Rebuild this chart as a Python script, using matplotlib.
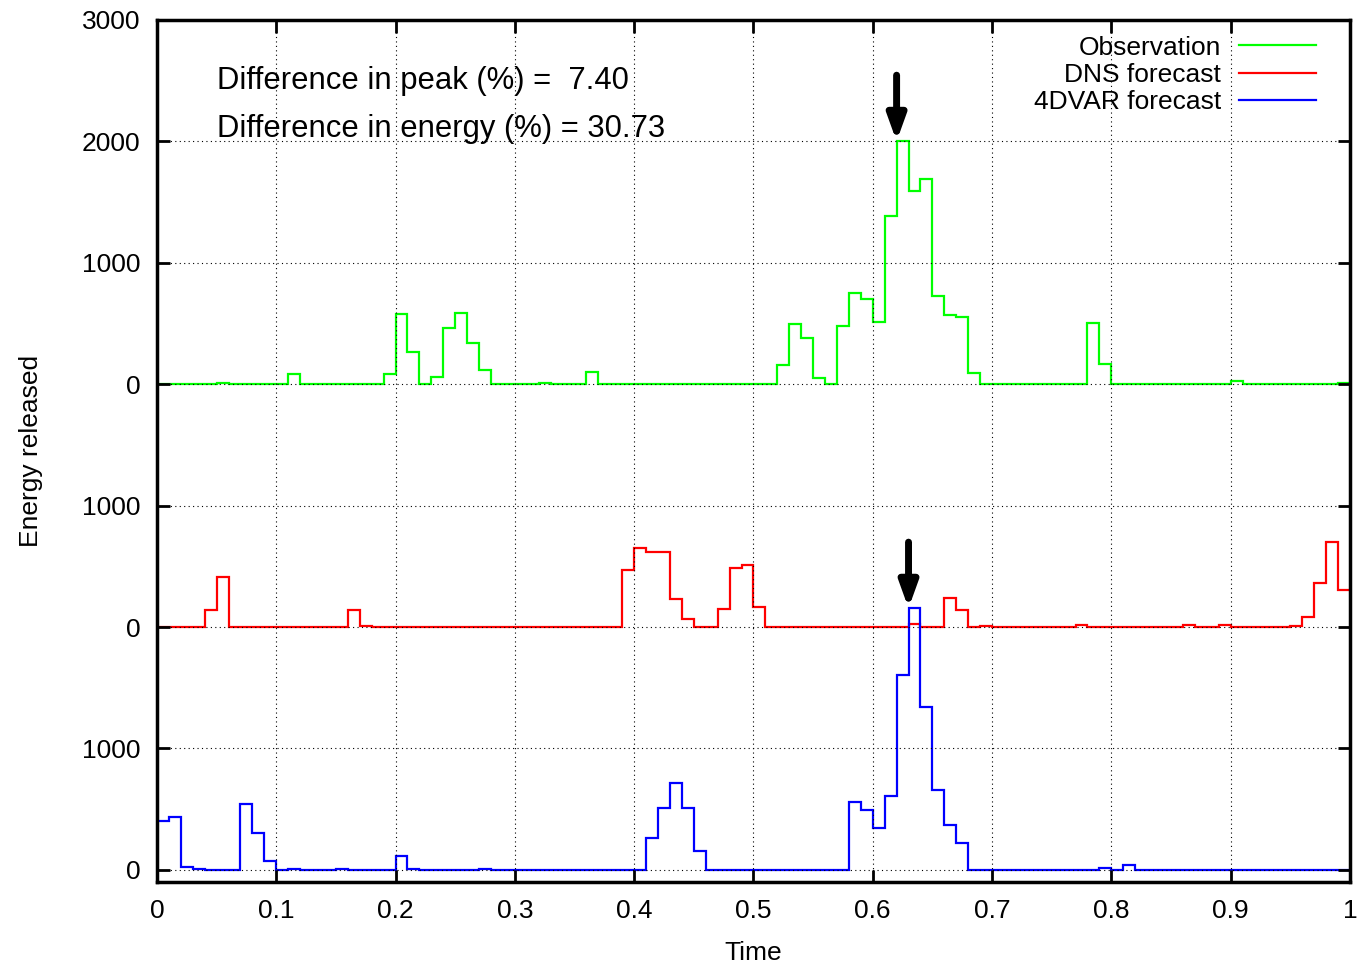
import numpy as np
import matplotlib
matplotlib.use("Agg")
import matplotlib.pyplot as plt
from matplotlib.ticker import FuncFormatter

plt.rcParams["font.family"] = ["Liberation Sans", "DejaVu Sans"]
plt.rcParams["font.size"] = 19

# bin edges: 100 bins of width 0.01 over [0, 1]
edges = np.linspace(0, 1, 101)

observation = [
    0, 0, 0, 0, 0, 8, 0, 0, 0, 0,
    0, 80, 0, 0, 0, 0, 0, 0, 0, 80,
    576, 268, 0, 63, 466, 587, 337, 115, 0, 0,
    0, 0, 8, 0, 0, 0, 104, 0, 0, 0,
    0, 0, 0, 0, 0, 0, 0, 0, 0, 0,
    0, 0, 159, 494, 384, 47, 0, 477, 755, 703,
    512, 1386, 2000, 1590, 1690, 725, 568, 550, 96, 0,
    0, 0, 0, 0, 0, 0, 0, 0, 508, 167,
    0, 0, 0, 0, 0, 0, 0, 0, 0, 0,
    27, 0, 0, 0, 0, 0, 0, 0, 0, 8,
]
dns = [
    0, 0, 0, 0, 143, 414, 0, 0, 0, 0,
    0, 0, 0, 0, 0, 0, 137, 10, 0, 0,
    0, 0, 0, 0, 0, 0, 0, 0, 0, 0,
    0, 0, 0, 0, 0, 0, 0, 0, 0, 472,
    648, 620, 615, 230, 66, 0, 0, 151, 488, 510,
    165, 0, 0, 0, 0, 0, 0, 0, 0, 0,
    0, 0, 0, 27, 0, 0, 236, 137, 0, 5,
    0, 0, 0, 0, 0, 0, 0, 15, 0, 0,
    0, 0, 0, 0, 0, 0, 15, 0, 0, 15,
    0, 0, 0, 0, 0, 8, 79, 359, 702, 304,
]
fourdvar = [
    406, 439, 27, 8, 0, 0, 0, 540, 304, 71,
    0, 5, 0, 0, 0, 5, 0, 0, 0, 0,
    115, 5, 0, 0, 0, 0, 0, 5, 0, 0,
    0, 0, 0, 0, 0, 0, 0, 0, 0, 0,
    0, 260, 507, 716, 507, 156, 0, 0, 0, 0,
    0, 0, 0, 0, 0, 0, 0, 0, 562, 494,
    343, 609, 1608, 2154, 1339, 658, 370, 225, 0, 0,
    0, 0, 0, 0, 0, 0, 0, 0, 0, 11,
    0, 41, 0, 0, 0, 0, 0, 0, 0, 0,
    0, 0, 0, 0, 0, 0, 0, 0, 0, 0,
]

series = [
    ("Observation", observation, "#00ff00", 0),
    ("DNS forecast", dns, "#ff0000", -2000),
    ("4DVAR forecast", fourdvar, "#0000ff", -4000),
]

ytick_pos = [-4000, -3000, -2000, -1000, 0, 1000, 2000, 3000]
ytick_labels = ["0", "1000", "0", "1000", "0", "1000", "2000", "3000"]

peak_diff = 7.40
energy_diff = 30.73

fig, ax = plt.subplots(figsize=(13.6, 9.64), dpi=100)
fig.subplots_adjust(left=0.1154, right=0.9926, top=0.9793, bottom=0.0851)

for label, vals, color, offset in series:
    ax.stairs(np.array(vals) + offset, edges, baseline=None,
              color=color, linewidth=1.6, label=label)

# arrows pointing at the peaks of observation and 4DVAR forecast
for vals, offset in [(observation, 0), (fourdvar, -4000)]:
    i = int(np.argmax(vals))
    tip = vals[i] + offset
    ax.annotate("", xy=(edges[i], tip), xytext=(edges[i], tip + 545),
                arrowprops=dict(arrowstyle="-|>,head_length=0.75,head_width=0.27",
                                color="black", lw=5, shrinkA=0, shrinkB=0,
                                mutation_scale=20))

ax.text(0.05, 2500, f"Difference in peak (%) = {peak_diff:5.2f}", va="center",
        fontsize=22.3)
ax.text(0.05, 2100, f"Difference in energy (%) = {energy_diff:5.2f}", va="center",
        fontsize=22.3)

ax.set_xlim(0, 1)
ax.set_ylim(-4100, 3000)
ax.set_xticks(np.linspace(0, 1, 11))
ax.xaxis.set_major_formatter(FuncFormatter(lambda v, p: f"{v:g}"))
ax.set_yticks(ytick_pos)
ax.set_yticklabels(ytick_labels)
ax.tick_params(direction="in", length=9, width=2, top=True, right=True, pad=12)
ax.grid(True, color="black", linestyle=(0, (1, 3)), linewidth=0.8)
for s in ax.spines.values():
    s.set_linewidth(2.5)

ax.set_xlabel("Time", labelpad=13)
ax.set_ylabel("Energy released", labelpad=28)

ax.legend(loc="upper right", bbox_to_anchor=(0.9804, 0.994), borderaxespad=0,
          frameon=False, markerfirst=False, handlelength=2.9,
          handletextpad=0.7, labelspacing=0.12)

fig.savefig("out.png", dpi=100)
